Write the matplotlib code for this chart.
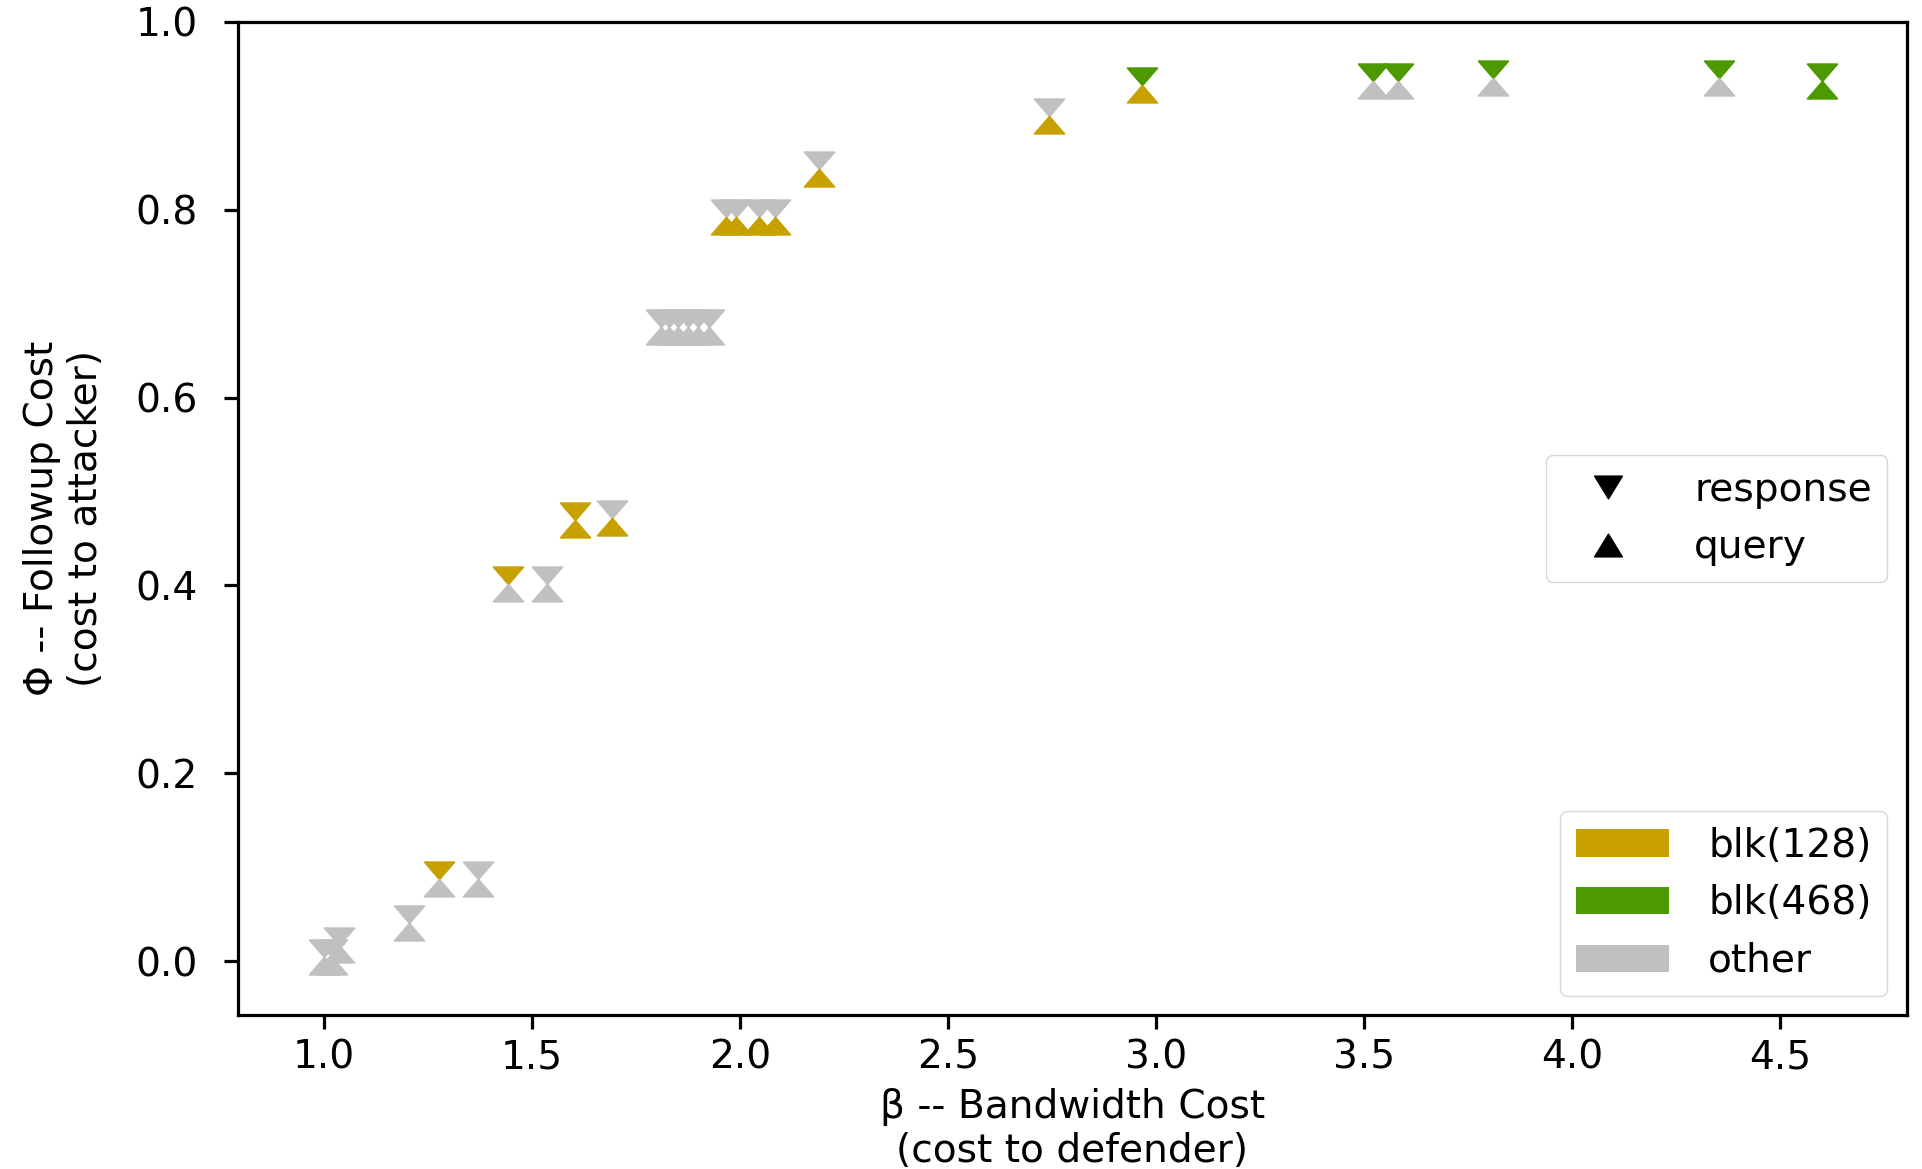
import matplotlib
matplotlib.use("Agg")
import matplotlib.pyplot as plt
from matplotlib.path import Path
from matplotlib.lines import Line2D
from matplotlib.patches import Patch
import numpy as np

# beta (bandwidth cost) and phi (followup cost) of each configuration
beta = [1.00, 1.02, 1.035, 1.203, 1.277, 1.369, 1.443, 1.537, 1.602, 1.693,
        1.81, 1.83, 1.85, 1.875, 1.90, 1.925,
        1.965, 1.99, 2.045, 2.085, 2.19, 2.742, 2.966,
        3.522, 3.581, 3.811, 4.353, 4.600]
phi = [0.004, 0.004, 0.017, 0.040, 0.087, 0.087, 0.402, 0.402, 0.470, 0.472,
       0.675, 0.675, 0.675, 0.675, 0.675, 0.675,
       0.792, 0.792, 0.792, 0.792, 0.843, 0.900, 0.933,
       0.937, 0.937, 0.940, 0.940, 0.937]

# padding category chosen for responses and for queries
response = ['other', 'other', 'other', 'other', 'blk128', 'other', 'blk128', 'other', 'blk128', 'other',
            'other', 'other', 'other', 'other', 'other', 'other',
            'other', 'other', 'other', 'other', 'other', 'other', 'blk468',
            'blk468', 'blk468', 'blk468', 'blk468', 'blk468']
query = ['other', 'other', 'other', 'other', 'other', 'other', 'other', 'other', 'blk128', 'blk128',
         'other', 'other', 'other', 'other', 'other', 'other',
         'blk128', 'blk128', 'blk128', 'blk128', 'blk128', 'blk128', 'blk128',
         'other', 'other', 'other', 'other', 'blk468']

categories = ['blk128', 'blk468', 'other']
cat_labels = ['blk(128)', 'blk(468)', 'other']
colors = {'blk128': '#c8a000', 'blk468': '#4d9a00', 'other': '#c0c0c0'}

S = 2.9  # scale of the whole figure against default sizes
plt.rcParams['font.size'] = 10 * S * 0.97
plt.rcParams['axes.linewidth'] = 0.8 * S
plt.rcParams['xtick.major.size'] = 3.5 * S
plt.rcParams['ytick.major.size'] = 3.5 * S
plt.rcParams['xtick.major.width'] = 0.8 * S
plt.rcParams['ytick.major.width'] = 0.8 * S
plt.rcParams['xtick.major.pad'] = 7
plt.rcParams['ytick.major.pad'] = 19

# caret shaped triangles, tip on the data point
h = 1.16
caret_down = Path([(-1, h), (1, h), (0, 0), (0, 0)], closed=True)
caret_up = Path([(-1, -h), (1, -h), (0, 0), (0, 0)], closed=True)
tri_down = Path([(-1, 0.82), (1, 0.82), (0, -0.82), (0, 0)], closed=True)
tri_up = Path([(-1, -0.82), (1, -0.82), (0, 0.82), (0, 0)], closed=True)

fig = plt.figure(figsize=(19.22, 11.69), dpi=100)
ax = fig.add_axes([0.1238, 0.1317, 0.8684, 0.8495])

b = np.array(beta)
p = np.array(phi)
resp = np.array(response)
qry = np.array(query)

for cat in categories:
    m = resp == cat
    ax.plot(b[m], p[m], linestyle='none', marker=caret_down, markersize=25,
            color=colors[cat], markeredgewidth=1.2, zorder=2)
for cat in categories:
    m = qry == cat
    ax.plot(b[m], p[m], linestyle='none', marker=caret_up, markersize=25,
            color=colors[cat], markeredgewidth=1.2, zorder=3)

ax.set_xlim(0.793, 4.805)
ax.set_ylim(-0.0575, 1.0)

ax.set_xlabel('β -- Bandwidth Cost\n(cost to defender)', labelpad=8)
ax.set_ylabel('Φ -- Followup Cost\n(cost to attacker)', labelpad=22)

mk_handles = [Line2D([], [], linestyle='none', marker=tri_down, markersize=20, color='black'),
              Line2D([], [], linestyle='none', marker=tri_up, markersize=20, color='black')]
leg1 = ax.legend(mk_handles, ['response', 'query'], loc='center right',
                 handlelength=2.4, handletextpad=1.0)
ax.add_artist(leg1)

col_handles = [Patch(facecolor=colors[c], edgecolor='none') for c in categories]
ax.legend(col_handles, cat_labels, loc='lower right', handlelength=2.4, handletextpad=1.0)

fig.savefig('out.png', dpi=100)
